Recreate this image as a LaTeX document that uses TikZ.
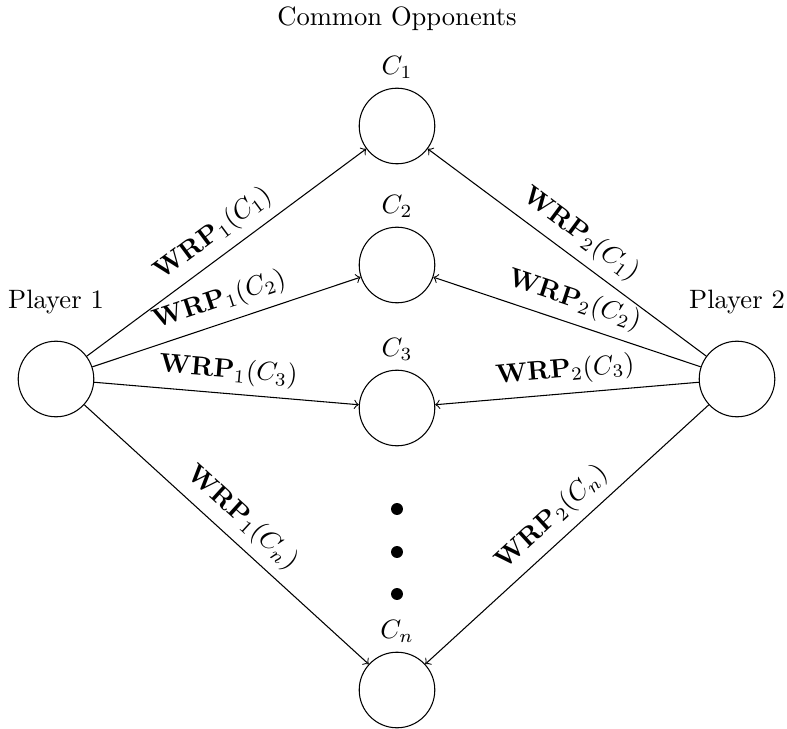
\documentclass[tikz,border=0pt]{standalone}
\usetikzlibrary{arrows}
\begin{document}
\begin{tikzpicture}[x=0.3764pt,y=-0.3764pt,
  vertex/.style={draw,circle,minimum size=1cm,inner sep=0pt},
  dotnode/.style={fill,circle,minimum size=4.5pt,inner sep=0pt},
  caption/.style={anchor=base,inner sep=0pt},
  link/.style={->,>=to},
  wrp/.style={midway,sloped,above}]
\useasboundingbox (0,0) rectangle (787,729);

% players
\node[vertex] (p1) at (56,379) {};
\node[vertex] (p2) at (737,379) {};
\node[caption] (p1t) at (56,309) {Player 1};
\node[caption] (p2t) at (737,309) {Player 2};

% common opponents
\node[caption] (title) at (397,26) {Common Opponents};
\node[vertex,label=above:{$C_1$}] (c1) at (397,126) {};
\node[vertex,label=above:{$C_2$}] (c2) at (397,265) {};
\node[vertex,label=above:{$C_3$}] (c3) at (397,408) {};
\node[vertex,label=above:{$C_n$}] (cn) at (397,690) {};

% ellipsis
\node[dotnode] (d1) at (397,509) {};
\node[dotnode] (d2) at (397,552) {};
\node[dotnode] (d3) at (397,594) {};

% edges from player 1
\draw[link] (p1) -- node[wrp] {$\mathbf{WRP}_1(C_1)$} (c1);
\draw[link] (p1) -- node[wrp] {$\mathbf{WRP}_1(C_2)$} (c2);
\draw[link] (p1) -- node[wrp] {$\mathbf{WRP}_1(C_3)$} (c3);
\draw[link] (p1) -- node[wrp] {$\mathbf{WRP}_1(C_n)$} (cn);

% edges from player 2
\draw[link] (p2) -- node[wrp] {$\mathbf{WRP}_2(C_1)$} (c1);
\draw[link] (p2) -- node[wrp] {$\mathbf{WRP}_2(C_2)$} (c2);
\draw[link] (p2) -- node[wrp] {$\mathbf{WRP}_2(C_3)$} (c3);
\draw[link] (p2) -- node[wrp] {$\mathbf{WRP}_2(C_n)$} (cn);
\end{tikzpicture}
\end{document}
